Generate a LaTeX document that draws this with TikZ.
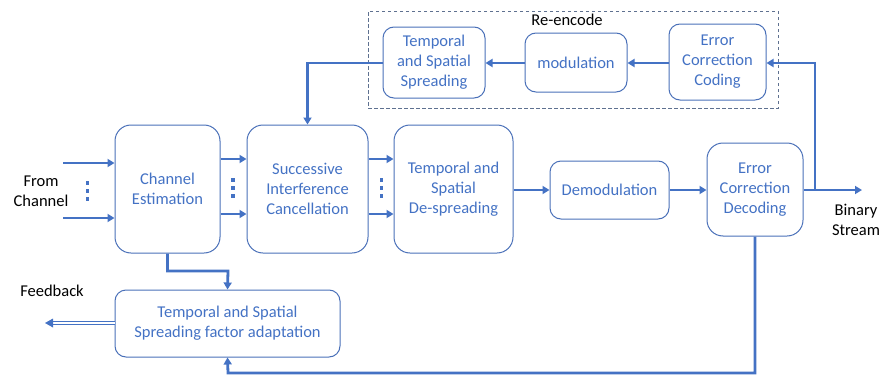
\documentclass[tikz,border=0pt]{standalone}
\usepackage{fontspec}
\setmainfont{Carlito}
\usetikzlibrary{arrows.meta,calc}
\definecolor{boxblue}{HTML}{4A70B8}
\definecolor{txtblue}{HTML}{4472C4}
\definecolor{arrblue}{HTML}{4472C4}
\definecolor{dashgray}{HTML}{5F7190}
\begin{document}
\begin{tikzpicture}[x=1pt,y=-1pt,
  blk/.style={draw=boxblue, line width=1pt, rounded corners=16pt, text=txtblue, align=center,
    font=\fontsize{16.5}{20}\selectfont, inner sep=0pt},
  lbl/.style={text=black, align=center, font=\fontsize{16.5}{20}\selectfont, inner sep=0pt},
  arr/.style={draw=arrblue, line width=2.8pt, -{Triangle[length=7pt,width=8pt]}},
  dotsq/.style={fill=arrblue}]
\useasboundingbox (0,0) rectangle (879,375);
% main row
\node[blk, minimum width=105pt, minimum height=128pt] (ce) at (167.5,189) {Channel\\Estimation};
\node[blk, minimum width=121pt, minimum height=128pt] (sic) at (307.5,189) {Successive\\Interference\\Cancellation};
\node[blk, minimum width=119pt, minimum height=128pt] (tsd) at (453.5,189) {Temporal and\\Spatial\\De-spreading};
\node[blk, rounded corners=11pt, minimum width=119pt, minimum height=58pt] (dem) at (609.5,190) {Demodulation};
\node[blk, minimum width=96pt, minimum height=93pt] (ecd) at (755,189.5) {Error\\Correction\\Decoding};
% re-encode
\node[draw=dashgray, line width=0.9pt, dash pattern=on 3.5pt off 2.5pt, minimum width=410pt, minimum height=97pt, inner sep=0pt] (re) at (573,59.5) {};
\node[lbl] (relbl) at (567,20) {Re-encode};
\node[blk, rounded corners=11pt, minimum width=102pt, minimum height=71pt] (tss) at (434,62.5) {Temporal\\and Spatial\\Spreading};
\node[blk, rounded corners=11pt, minimum width=102pt, minimum height=59pt] (mod) at (576,62.5) {modulation};
\node[blk, rounded corners=11pt, minimum width=97pt, minimum height=76pt] (ecc) at (717.5,62) {Error\\Correction\\Coding};
% feedback block
\node[blk, rounded corners=11pt, minimum width=225pt, minimum height=67pt] (tssfa) at (227.5,323.5) {Temporal and Spatial\\Spreading factor adaptation};
% labels
\node[lbl] (from) at (41,191) {From\\Channel};
\node[lbl] (bin) at (856,220) {Binary\\Stream};
\node[lbl] (fb) at (52,291) {Feedback};
% inputs
\coordinate (in1) at (63,163);
\coordinate (in2) at (63,218);
\draw[arr] (in1) -- (ce.west|-in1);
\draw[arr] (in2) -- (ce.west|-in2);
\foreach \yy in {183,191,199} \fill[dotsq] (86,\yy-1.7) rectangle ++(3.4,3.4);
% CE -> SIC
\draw[arr] ([yshift=30pt]ce.east) -- ([yshift=30pt]sic.west);
\draw[arr] ([yshift=-25pt]ce.east) -- ([yshift=-25pt]sic.west);
\foreach \yy in {180,188,196} \fill[dotsq] (231.3,\yy-1.7) rectangle ++(3.4,3.4);
% SIC -> TSD
\draw[arr] ([yshift=30pt]sic.east) -- ([yshift=30pt]tsd.west);
\draw[arr] ([yshift=-25pt]sic.east) -- ([yshift=-25pt]tsd.west);
\foreach \yy in {180,188,196} \fill[dotsq] (380,\yy-1.7) rectangle ++(3.4,3.4);
% TSD -> DEM -> ECD -> out
\draw[arr] (tsd.east|-dem.west) -- (dem.west);
\draw[arr] (dem.east) -- (ecd.west|-dem.east);
\coordinate (out) at (862,190);
\coordinate (br) at (815,190);
\draw[arr] (ecd.east|-out) -- (out);
% re-encode loop
\coordinate (loopy) at (0,63);
\draw[arr] (br) |- (ecc.east|-loopy);
\draw[arr] (ecc.west|-loopy) -- (mod.east|-loopy);
\draw[arr] (mod.west|-loopy) -- (tss.east|-loopy);
\draw[arr] (tss.west|-loopy) -| (sic.north);
% CE -> TSSFA
\coordinate (c1) at (228,271);
\draw[arr] (ce.south) |- (c1) -- (tssfa.north);
% ECD -> TSSFA
\coordinate (c2) at (228,373);
\draw[arr] (ecd.south) |- (c2) -- (tssfa.south);
% Feedback double arrow
\coordinate (fbend) at (45,323);
\draw[arrblue, line width=1pt, double=white, double distance=1.6pt, shorten >=5pt] (tssfa.west|-fbend) -- (fbend);
\fill[arrblue] (fbend) -- ++(8,-4.5) -- ++(0,9) -- cycle;
\end{tikzpicture}
\end{document}
